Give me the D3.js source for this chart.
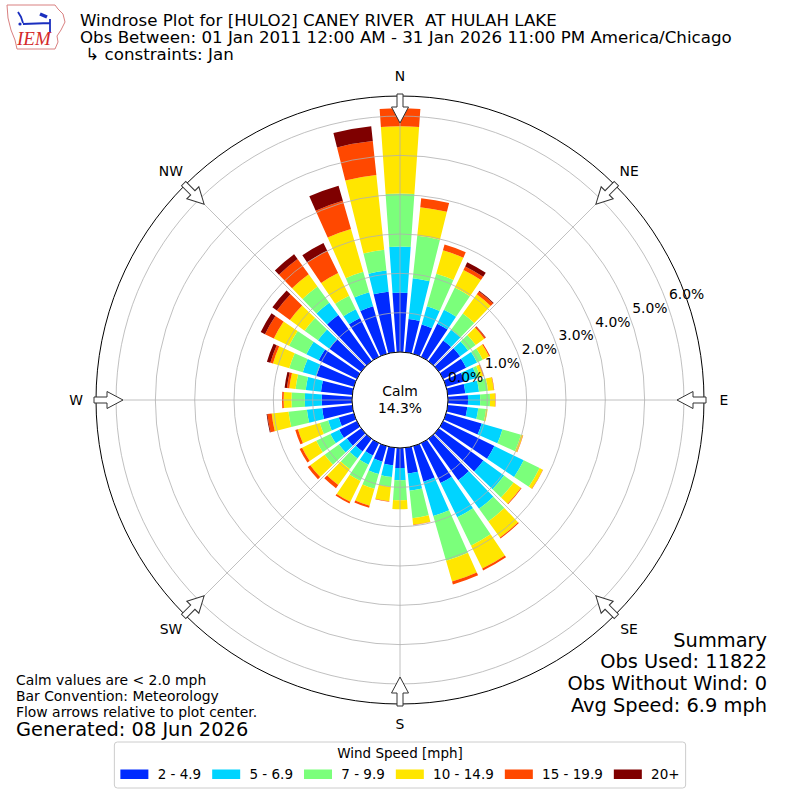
<!DOCTYPE html>
<html lang="en">
<head>
<meta charset="UTF-8">
<title>Windrose Plot</title>
<style>
    body {
        margin: 0;
        background: #ffffff;
    }
    svg {
        display: block;
        font-family: 'DejaVu Sans', sans-serif;
    }
    text {
        white-space: pre;
    }
</style>
</head>
<body>
<div id="chart"></div>
<script src="https://d3js.org/d3.v7.min.js"></script>
<script>
// wind direction bins (degrees, meteorological convention)
const directions = [0, 10, 20, 30, 40, 50, 60, 70, 80, 90, 100, 110, 120, 130, 140, 150, 160, 170,
                    180, 190, 200, 210, 220, 230, 240, 250, 260, 270, 280, 290, 300, 310, 320, 330, 340, 350];

const speedBins = ["2 - 4.9", "5 - 6.9", "7 - 9.9", "10 - 14.9", "15 - 19.9", "20+"];
const binColors = ["#002aff", "#00d4ff", "#7bff7b", "#ffe600", "#ff4800", "#7f0000"];

// percent of observations per direction, one array per speed bin
const speed2to5   = [1.51, 0.85, 0.78, 0.94, 0.65, 0.67, 0.65, 0.48, 0.45, 0.51, 0.50, 0.94, 1.45, 1.40, 1.30, 1.13, 0.94, 0.66,
                     0.51, 0.45, 0.41, 0.35, 0.40, 0.45, 0.50, 0.40, 0.77, 0.77, 0.80, 0.99, 1.08, 1.00, 1.45, 1.10, 1.26, 1.55];
const speed5to7   = [1.17, 1.04, 0.48, 0.39, 0.34, 0.25, 0.31, 0.33, 0.35, 0.31, 0.28, 0.55, 0.83, 0.65, 0.90, 0.97, 0.91, 0.44,
                     0.31, 0.30, 0.33, 0.26, 0.22, 0.25, 0.25, 0.28, 0.39, 0.43, 0.39, 0.36, 0.35, 0.36, 0.39, 0.25, 0.37, 0.54];
const speed7to10  = [1.35, 1.09, 0.86, 0.63, 0.51, 0.24, 0.16, 0.09, 0.23, 0.25, 0.20, 0.49, 0.45, 0.30, 0.40, 0.80, 1.18, 0.70,
                     0.51, 0.25, 0.39, 0.46, 0.33, 0.45, 0.40, 0.22, 0.47, 0.34, 0.26, 0.36, 0.49, 0.42, 0.51, 0.38, 0.54, 0.53];
const speed10to15 = [1.71, 0.73, 0.62, 0.50, 0.60, 0.27, 0.18, 0.08, 0.15, 0.13, 0.04, 0.05, 0.09, 0.23, 0.50, 0.65, 0.55, 0.17,
                     0.23, 0.37, 0.45, 0.59, 0.50, 0.45, 0.40, 0.58, 0.43, 0.20, 0.16, 0.43, 0.43, 0.46, 0.38, 0.64, 1.13, 1.91];
const speed15to20 = [0.46, 0.23, 0.15, 0.10, 0.09, 0.04, 0.03, 0.02, 0.01, 0.01, 0.00, 0.01, 0.01, 0.02, 0.03, 0.05, 0.08, 0.01,
                     0.00, 0.01, 0.05, 0.05, 0.10, 0.08, 0.07, 0.07, 0.11, 0.04, 0.06, 0.07, 0.25, 0.41, 0.48, 0.63, 0.75, 0.87];
const speed20plus = [0.00, 0.00, 0.00, 0.12, 0.02, 0.01, 0.00, 0.00, 0.00, 0.00, 0.00, 0.00, 0.00, 0.00, 0.00, 0.00, 0.00, 0.00,
                     0.00, 0.00, 0.00, 0.00, 0.00, 0.00, 0.00, 0.00, 0.02, 0.00, 0.06, 0.09, 0.12, 0.14, 0.15, 0.22, 0.40, 0.38];

const calmPct = 14.3;
const radialTicks = [0, 1, 2, 3, 4, 5, 6];
const compassLabels = ["N", "NE", "E", "SE", "S", "SW", "W", "NW"];
const compassAngles = [0, 45, 90, 135, 180, 225, 270, 315];

const titleLines = [
    "Windrose Plot for [HULO2] CANEY RIVER  AT HULAH LAKE",
    "Obs Between: 01 Jan 2011 12:00 AM - 31 Jan 2026 11:00 PM America/Chicago",
    " \u21b3 constraints: Jan"
];
const noteLines = ["Calm values are < 2.0 mph", "Bar Convention: Meteorology", "Flow arrows relative to plot center."];
const generatedText = "Generated: 08 Jun 2026";
const summaryLines = ["Summary", "Obs Used: 11822", "Obs Without Wind: 0", "Avg Speed: 6.9 mph"];

const width = 800, height = 800;
const cx = 400, cy = 400;
const calmR = 48, outerR = 304;

const svg = d3.select("#chart").append("svg")
    .attr("width", width)
    .attr("height", height);

// stack the speed bins per direction
const keys = ["b0", "b1", "b2", "b3", "b4", "b5"];
const series = [speed2to5, speed5to7, speed7to10, speed10to15, speed15to20, speed20plus];
const table = directions.map((d, i) => {
    const row = { dir: d };
    keys.forEach((k, j) => row[k] = series[j][i]);
    return row;
});
const stacked = d3.stack().keys(keys)(table);
const maxTotal = d3.max(stacked[stacked.length - 1], p => p[1]);

const r = d3.scaleLinear()
    .domain([0, maxTotal * 1.05])
    .range([calmR, outerR]);

const rad = deg => deg * Math.PI / 180;
const arc = d3.arc();
const halfWidth = 4; // bars fill 80% of each 10 degree sector

const plot = svg.append("g").attr("transform", `translate(${cx},${cy})`);

// bars
plot.append("g").selectAll("g")
    .data(stacked)
    .join("g")
    .attr("fill", (d, i) => binColors[i])
    .selectAll("path")
    .data(d => d.filter(p => p[1] - p[0] > 0))
    .join("path")
    .attr("d", p => arc({
        innerRadius: r(p[0]),
        outerRadius: r(p[1]),
        startAngle: rad(p.data.dir - halfWidth),
        endAngle: rad(p.data.dir + halfWidth)
    }));

// grid
const grid = plot.append("g").attr("fill", "none").attr("stroke", "#b0b0b0").attr("stroke-width", 0.8);
grid.selectAll("circle")
    .data(radialTicks)
    .join("circle")
    .attr("r", d => r(d));
grid.selectAll("line")
    .data(compassAngles)
    .join("line")
    .attr("x1", d => calmR * Math.sin(rad(d)))
    .attr("y1", d => -calmR * Math.cos(rad(d)))
    .attr("x2", d => outerR * Math.sin(rad(d)))
    .attr("y2", d => -outerR * Math.cos(rad(d)));

plot.append("circle")
    .attr("r", outerR)
    .attr("fill", "none")
    .attr("stroke", "#000")
    .attr("stroke-width", 1);

// calm circle
plot.append("circle")
    .attr("r", calmR)
    .attr("fill", "#fff")
    .attr("stroke", "#000")
    .attr("stroke-width", 1);
plot.append("text")
    .attr("text-anchor", "middle")
    .attr("font-size", 13.9)
    .selectAll("tspan")
    .data(["Calm", calmPct.toFixed(1) + "%"])
    .join("tspan")
    .attr("x", 0)
    .attr("y", (d, i) => -4 + i * 17)
    .text(d => d);

// flow arrows
plot.append("g").selectAll("path")
    .data(compassAngles)
    .join("path")
    .attr("d", "M-3,-306 L3,-306 L3,-293 L8.5,-293 L0,-277 L-8.5,-293 L-3,-293 Z")
    .attr("transform", d => `rotate(${d})`)
    .attr("fill", "#fff")
    .attr("stroke", "#333")
    .attr("stroke-width", 1);

// compass labels
plot.append("g").selectAll("text")
    .data(compassLabels)
    .join("text")
    .attr("x", (d, i) => 324 * Math.sin(rad(compassAngles[i])))
    .attr("y", (d, i) => -324 * Math.cos(rad(compassAngles[i])))
    .attr("text-anchor", "middle")
    .attr("dominant-baseline", "central")
    .attr("font-size", 13.9)
    .text(d => d);

// radial tick labels
const labelAngle = rad(20.5);
plot.append("g").selectAll("text")
    .data(radialTicks)
    .join("text")
    .attr("x", d => r(d) * Math.cos(labelAngle) + 3)
    .attr("y", d => -r(d) * Math.sin(labelAngle) - 6.5)
    .attr("dominant-baseline", "central")
    .attr("font-size", 13.9)
    .text(d => d.toFixed(1) + "%");

// title
svg.append("g").selectAll("text")
    .data(titleLines)
    .join("text")
    .attr("x", 80)
    .attr("y", (d, i) => 26 + i * 17.2)
    .attr("font-size", 16.67)
    .text(d => d);

// notes bottom left
svg.append("g").selectAll("text")
    .data(noteLines)
    .join("text")
    .attr("x", 16)
    .attr("y", (d, i) => 685 + i * 16)
    .attr("font-size", 13.9)
    .text(d => d);
svg.append("text")
    .attr("x", 16)
    .attr("y", 736)
    .attr("font-size", 19.4)
    .text(generatedText);

// summary bottom right
svg.append("g").selectAll("text")
    .data(summaryLines)
    .join("text")
    .attr("x", 767)
    .attr("y", (d, i) => 646.5 + i * 21.7)
    .attr("text-anchor", "end")
    .attr("font-size", 19.4)
    .text(d => d);

// legend
const legend = svg.append("g");
const legendBox = legend.append("rect")
    .attr("y", 742)
    .attr("height", 46)
    .attr("rx", 3)
    .attr("fill", "#fff")
    .attr("stroke", "#cccccc")
    .attr("stroke-width", 1);
legend.append("text")
    .attr("x", cx)
    .attr("y", 758)
    .attr("text-anchor", "middle")
    .attr("font-size", 13.5)
    .text("Wind Speed [mph]");
const entries = legend.selectAll("g.entry")
    .data(speedBins)
    .join("g")
    .attr("class", "entry");
entries.append("rect")
    .attr("y", 769.5)
    .attr("width", 28)
    .attr("height", 9.5)
    .attr("fill", (d, i) => binColors[i]);
entries.append("text")
    .attr("x", 37.3)
    .attr("y", 779)
    .attr("font-size", 13.5)
    .text(d => d);
let cursor = 0;
const offsets = [];
entries.each(function () {
    offsets.push(cursor);
    const w = d3.select(this).select("text").node().getComputedTextLength();
    cursor += 37.3 + w + 11;
});
const totalW = cursor - 11;
const startX = cx - totalW / 2;
entries.attr("transform", (d, i) => `translate(${startX + offsets[i]},0)`);
legendBox.attr("x", startX - 6).attr("width", totalW + 12);

// IEM logo
const logo = svg.append("g");
logo.append("path")
    .attr("d", "M7,5 L55,5 L58,9 L63,14 L65,22 L61,30 L57,36 L58,42 L55,49 L17,49 L15,40 L11,30 L8,18 Z")
    .attr("fill", "none")
    .attr("stroke", "#d98080")
    .attr("stroke-width", 1);
logo.append("path")
    .attr("d", "M23,24 L50,23 M50,19 L50,33 M18,12 L21,17 L23,23")
    .attr("fill", "none")
    .attr("stroke", "#1a2fbf")
    .attr("stroke-width", 1.8);
logo.append("path")
    .attr("d", "M40,14 L47,17")
    .attr("stroke", "#1a2fbf")
    .attr("stroke-width", 3.5);
logo.append("circle").attr("cx", 20).attr("cy", 24).attr("r", 1.6).attr("fill", "#1a2fbf");
logo.append("text")
    .attr("x", 17)
    .attr("y", 45)
    .attr("font-family", "'Liberation Serif', serif")
    .attr("font-style", "italic")
    .attr("font-size", 19)
    .attr("fill", "#d42a2a")
    .text("IEM");
</script>
</body>
</html>
